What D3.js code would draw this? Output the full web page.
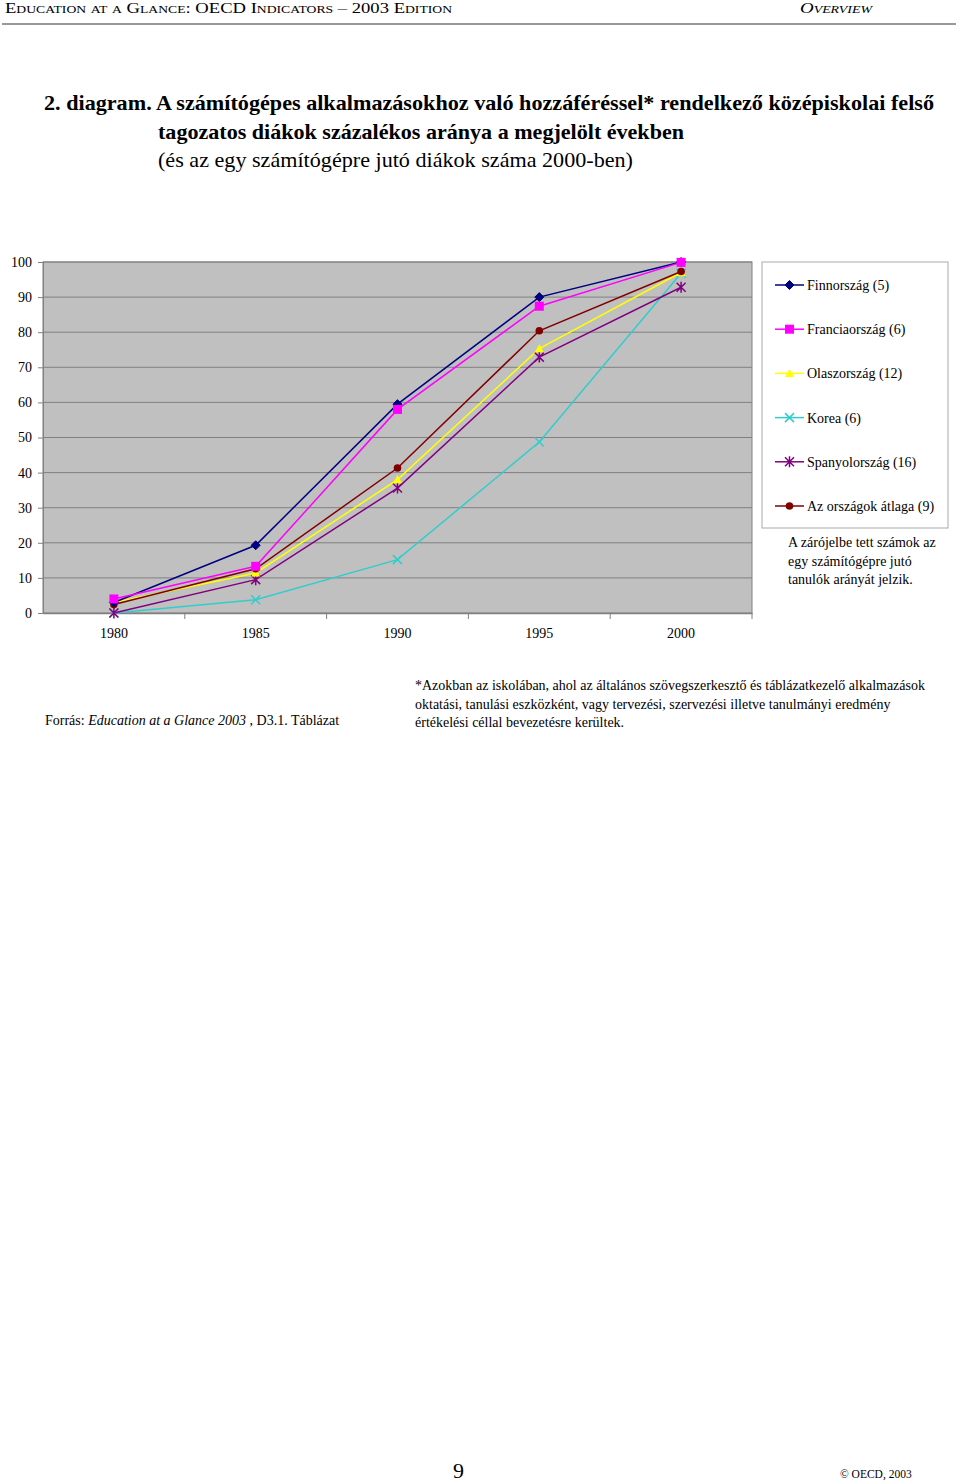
<!DOCTYPE html>
<html><head><meta charset="utf-8">
<script src="https://cdn.jsdelivr.net/npm/d3@7"></script>
<style>
body{margin:0;background:#fff;}
svg{display:block;font-family:"Liberation Serif","Times New Roman",serif;}
</style></head>
<body>
<svg id="c" width="960" height="1484"></svg>
<script>
const years = ["1980","1985","1990","1995","2000"];
const seriesNames = ["Finnország (5)","Franciaország (6)","Olaszország (12)","Korea (6)","Spanyolország (16)","Az országok átlaga (9)"];
const finland = [3, 19.3, 59.5, 90, 100];
const france = [4, 13.3, 58, 87.4, 99.9];
const italy = [3, 11.4, 38, 75.3, 97];
const korea = [0, 3.8, 15.2, 48.7, 96.8];
const spain = [0, 9.5, 35.6, 72.9, 92.8];
const average = [2.4, 12.6, 41.3, 80.4, 97.3];
const yTicks = [0,10,20,30,40,50,60,70,80,90,100];
const colors = ["#000080","#FF00FF","#FFFF00","#33CCCC","#800080","#800000"];
const markers = ["diamond","square","triangle","x","asterisk","circle"];
const allSeries = [finland, france, italy, korea, spain, average];

const svg = d3.select("#c");

// Header
svg.append("text").attr("x",5).attr("y",13).attr("font-size",15)
  .style("font-variant","small-caps").attr("fill","#000")
  .text("Education at a Glance: OECD Indicators – 2003 Edition")
  .attr("textLength",447).attr("lengthAdjust","spacingAndGlyphs");
svg.append("text").attr("x",800).attr("y",13).attr("font-size",15)
  .style("font-variant","small-caps").attr("font-style","italic")
  .text("Overview").attr("textLength",72).attr("lengthAdjust","spacingAndGlyphs");
svg.append("line").attr("x1",2).attr("x2",956).attr("y1",24).attr("y2",24)
  .attr("stroke","#777").attr("stroke-width",1.5);

// Title
svg.append("text").attr("x",44).attr("y",110).attr("font-size",21).attr("font-weight","bold")
  .text("2. diagram. A számítógépes alkalmazásokhoz való hozzáféréssel* rendelkező középiskolai felső")
  .attr("textLength",890).attr("lengthAdjust","spacingAndGlyphs");
svg.append("text").attr("x",158).attr("y",139).attr("font-size",21).attr("font-weight","bold")
  .text("tagozatos diákok százalékos aránya a megjelölt években")
  .attr("textLength",526).attr("lengthAdjust","spacingAndGlyphs");
svg.append("text").attr("x",158).attr("y",167).attr("font-size",21)
  .text("(és az egy számítógépre jutó diákok száma 2000-ben)")
  .attr("textLength",475).attr("lengthAdjust","spacingAndGlyphs");

// Plot
const x = d3.scaleBand().domain(years).range([43,752]);
const y = d3.scaleLinear().domain([0,100]).range([613,262]);

svg.append("rect").attr("x",43).attr("y",262).attr("width",709).attr("height",351)
  .attr("fill","#C0C0C0").attr("stroke","#808080").attr("stroke-width",1);

svg.append("g").selectAll("line").data(yTicks.filter(d=>d>0)).join("line")
  .attr("x1",43).attr("x2",752).attr("y1",d=>y(d)).attr("y2",d=>y(d))
  .attr("stroke","#808080").attr("stroke-width",1);

const yAxis = svg.append("g").attr("transform","translate(43,0)")
  .call(d3.axisLeft(y).tickValues(yTicks).tickSize(5).tickPadding(6));
yAxis.select(".domain").attr("stroke","#808080");
yAxis.selectAll(".tick line").attr("stroke","#808080");
yAxis.selectAll("text").attr("font-size",14).attr("font-family","Liberation Serif").attr("fill","#000");

const xAxis = svg.append("g").attr("transform","translate(0,613)")
  .call(d3.axisBottom(x).tickSize(0).tickPadding(15));
xAxis.select(".domain").attr("stroke","#808080").attr("stroke-width",1.5);
xAxis.selectAll("text").attr("font-size",14).attr("font-family","Liberation Serif").attr("fill","#000");
svg.append("g").selectAll("line").data(years.slice(1)).join("line")
  .attr("x1",d=>x(d)).attr("x2",d=>x(d)).attr("y1",613).attr("y2",619)
  .attr("stroke","#808080");
svg.append("line").attr("x1",752).attr("x2",752).attr("y1",613).attr("y2",619).attr("stroke","#808080");

function drawMarker(g, type, cx, cy, color){
  const s = 4.5;
  if(type==="diamond"){
    g.append("path").attr("d",`M${cx},${cy-s}L${cx+s},${cy}L${cx},${cy+s}L${cx-s},${cy}Z`).attr("fill",color).attr("stroke",color);
  } else if(type==="square"){
    g.append("rect").attr("x",cx-s).attr("y",cy-s).attr("width",2*s).attr("height",2*s).attr("fill",color);
  } else if(type==="triangle"){
    g.append("path").attr("d",`M${cx},${cy-s}L${cx+s},${cy+s*0.8}L${cx-s},${cy+s*0.8}Z`).attr("fill",color);
  } else if(type==="x"){
    g.append("path").attr("d",`M${cx-s},${cy-s}L${cx+s},${cy+s}M${cx-s},${cy+s}L${cx+s},${cy-s}`).attr("stroke",color).attr("stroke-width",1.5);
  } else if(type==="asterisk"){
    g.append("path").attr("d",`M${cx-s},${cy-s}L${cx+s},${cy+s}M${cx-s},${cy+s}L${cx+s},${cy-s}M${cx},${cy-s-1}L${cx},${cy+s+1}`).attr("stroke",color).attr("stroke-width",1.5);
  } else if(type==="circle"){
    g.append("circle").attr("cx",cx).attr("cy",cy).attr("r",3.8).attr("fill",color);
  }
}

const line = d3.line().x((d,i)=>x(years[i])+x.bandwidth()/2).y(d=>y(d));
const order = [3,4,2,5,0,1];
order.forEach(si=>{
  svg.append("path").datum(allSeries[si]).attr("d",line).attr("fill","none")
    .attr("stroke",colors[si]).attr("stroke-width",1.5);
});
order.forEach(si=>{
  const g = svg.append("g");
  allSeries[si].forEach((v,i)=>drawMarker(g, markers[si], x(years[i])+x.bandwidth()/2, y(v), colors[si]));
});

// Legend
svg.append("rect").attr("x",762).attr("y",262).attr("width",186).attr("height",266)
  .attr("fill","#fff").attr("stroke","#aaa").attr("stroke-width",1);
seriesNames.forEach((n,i)=>{
  const ly = 285 + i*44.2;
  const g = svg.append("g");
  g.append("line").attr("x1",775).attr("x2",804).attr("y1",ly).attr("y2",ly).attr("stroke",colors[i]).attr("stroke-width",1.5);
  drawMarker(g, markers[i], 789.5, ly, colors[i]);
  g.append("text").attr("x",807).attr("y",ly+5).attr("font-size",14).text(n);
});
["A zárójelbe tett számok az","egy számítógépre jutó","tanulók arányát jelzik."].forEach((t,i)=>{
  svg.append("text").attr("x",788).attr("y",547+i*18.5).attr("font-size",14).text(t);
});

// Footer notes
const src = svg.append("text").attr("x",45).attr("y",725).attr("font-size",14);
src.append("tspan").text("Forrás: ");
src.append("tspan").attr("font-style","italic").text("Education at a Glance 2003");
src.append("tspan").text(" , D3.1. Táblázat");

["*Azokban az iskolában, ahol az általános szövegszerkesztő és táblázatkezelő alkalmazások",
 "oktatási, tanulási eszközként, vagy tervezési, szervezési illetve tanulmányi eredmény",
 "értékelési céllal bevezetésre kerültek."].forEach((t,i)=>{
  svg.append("text").attr("x",415).attr("y",690+i*18.5).attr("font-size",14).text(t);
});

svg.append("text").attr("x",453).attr("y",1478).attr("font-size",22).text("9");
svg.append("text").attr("x",840).attr("y",1478).attr("font-size",11.5).text("© OECD, 2003");
</script>
</body></html>
